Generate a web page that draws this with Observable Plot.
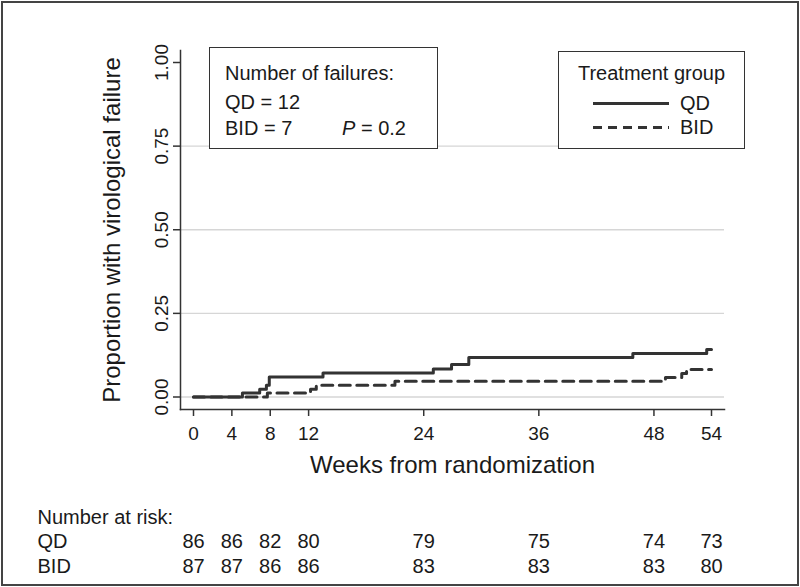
<!DOCTYPE html>
<html>
<head>
<meta charset="utf-8">
<script src="https://cdn.jsdelivr.net/npm/d3@7"></script>
<script src="https://cdn.jsdelivr.net/npm/@observablehq/plot@0.6"></script>
<style>
  html, body { margin: 0; padding: 0; background: #fff; }
  #wrap { position: relative; width: 800px; height: 587px; font-family: "Liberation Sans", Arial, Helvetica, sans-serif; color: #1a1a1a; }
  #wrap svg { position: absolute; left: 0; top: 0; }
  .border { position: absolute; left: 1px; top: 1px; width: 794px; height: 581px; border: 2px solid #444; pointer-events: none; }
  .box { position: absolute; border: 1.5px solid #333; background: #fff; box-sizing: border-box; }
  .t { position: absolute; font-size: 20px; line-height: 20px; white-space: nowrap; }
</style>
</head>
<body>
<div id="wrap"></div>
<script>
// ---- data ----
const qdWeeks = [0, 5.1, 6.9, 7.6, 7.9, 13.5, 25.0, 26.9, 28.7, 45.8, 53.5, 54];
const qdProp  = [0, 0.012, 0.023, 0.035, 0.060, 0.072, 0.084, 0.097, 0.118, 0.130, 0.142, 0.142];
const bidWeeks = [0, 7.7, 12.2, 12.8, 21.0, 49.2, 50.9, 51.4, 54];
const bidProp  = [0, 0.012, 0.023, 0.035, 0.047, 0.058, 0.070, 0.082, 0.082];
const riskWeeks = [0, 4, 8, 12, 24, 36, 48, 54];
const qdRisk  = [86, 86, 82, 80, 79, 75, 74, 73];
const bidRisk = [87, 87, 86, 86, 83, 83, 83, 80];
const xTicks = [0, 4, 8, 12, 24, 36, 48, 54];
const yTicks = [0, 0.25, 0.5, 0.75, 1];
const gridTicks = [0, 0.25, 0.5, 0.75];
const groups = ["QD", "BID"];
const failures = {QD: 12, BID: 7};
const pValue = "0.2";

const qd = qdWeeks.map((w, i) => ({week: w, p: qdProp[i]}));
const bid = bidWeeks.map((w, i) => ({week: w, p: bidProp[i]}));
const ink = "#1a1a1a";
const lineInk = "#333";
const font = "Liberation Sans, Arial, Helvetica, sans-serif";
const narrow = "Liberation Sans Narrow, Arial Narrow, Liberation Sans, Arial, sans-serif";

const chart = Plot.plot({
  width: 800,
  height: 587,
  marginTop: 50,
  marginBottom: 178,
  marginLeft: 180,
  marginRight: 76,
  x: {domain: [0, 54], insetLeft: 13, insetRight: 13},
  y: {domain: [0, 1], insetTop: 12, insetBottom: 12.5},
  style: {fontFamily: font, color: ink, background: "transparent", overflow: "visible"},
  marks: [
    Plot.gridY(gridTicks, {stroke: "#d6d6d6", strokeOpacity: 1, strokeWidth: 1.3}),
    Plot.frame({anchor: "left", stroke: lineInk, strokeWidth: 1.5}),
    Plot.frame({anchor: "bottom", stroke: lineInk, strokeWidth: 1.5}),
    Plot.axisX({ticks: xTicks, tickSize: 7, tickFormat: () => "", label: null, stroke: lineInk, strokeWidth: 1.5}),
    Plot.axisY({ticks: yTicks, tickSize: 7, tickFormat: () => "", label: null, stroke: lineInk, strokeWidth: 1.5}),
    Plot.text(xTicks, {x: d => d, text: d => String(d), frameAnchor: "bottom", dy: 30, fontSize: 19, fontFamily: narrow, fill: ink}),
    Plot.text(yTicks, {y: d => d, text: d => d.toFixed(2), frameAnchor: "left", dx: -19, rotate: -90, textAnchor: "middle", fontSize: 19, fontFamily: narrow, fill: ink}),
    Plot.line(bid, {x: "week", y: "p", curve: "step-after", stroke: lineInk, strokeWidth: 3, strokeDasharray: "11,6.5"}),
    Plot.line(qd, {x: "week", y: "p", curve: "step-after", stroke: lineInk, strokeWidth: 3}),
    Plot.text(["Proportion with virological failure"], {frameAnchor: "left", dx: -68, rotate: -90, textAnchor: "middle", fontSize: 24, fill: ink}),
    Plot.text(["Weeks from randomization"], {frameAnchor: "bottom", dy: 63, fontSize: 24, fill: ink}),
    Plot.text(["Number at risk:"], {frameAnchor: "bottom-left", dx: -143, dy: 114, textAnchor: "start", fontSize: 20, fill: ink}),
    Plot.text([groups[0]], {frameAnchor: "bottom-left", dx: -143, dy: 138, textAnchor: "start", fontSize: 20, fill: ink}),
    Plot.text([groups[1]], {frameAnchor: "bottom-left", dx: -143, dy: 163, textAnchor: "start", fontSize: 20, fill: ink}),
    Plot.text(riskWeeks, {x: d => d, text: (d, i) => qdRisk[i], frameAnchor: "bottom", dy: 138, fontSize: 20, fill: ink}),
    Plot.text(riskWeeks, {x: d => d, text: (d, i) => bidRisk[i], frameAnchor: "bottom", dy: 163, fontSize: 20, fill: ink})
  ]
});

const wrap = document.getElementById("wrap");
wrap.appendChild(chart);

// outer border
const border = document.createElement("div");
border.className = "border";
wrap.appendChild(border);

// Box 1: number of failures
const box1 = document.createElement("div");
box1.className = "box";
Object.assign(box1.style, {left: "209px", top: "47px", width: "229px", height: "102px"});
box1.innerHTML = `
  <div class="t" style="left:15px; top:15px;">Number of failures:</div>
  <div class="t" style="left:15px; top:44px;">${groups[0]} = ${failures.QD}</div>
  <div class="t" style="left:15px; top:70px;">${groups[1]} = ${failures.BID}</div>
  <div class="t" style="left:132px; top:70px;"><i>P</i> = ${pValue}</div>`;
wrap.appendChild(box1);

// Box 2: treatment group legend
const box2 = document.createElement("div");
box2.className = "box";
Object.assign(box2.style, {left: "558px", top: "51px", width: "187px", height: "98px"});
box2.innerHTML = `
  <div class="t" style="left:0; width:185px; text-align:center; top:11px;">Treatment group</div>
  <svg style="position:absolute; left:34px; top:42px;" width="78" height="40">
    <line x1="0" x2="76" y1="9.5" y2="9.5" stroke="${lineInk}" stroke-width="3"/>
    <line x1="0" x2="76" y1="33.5" y2="33.5" stroke="${lineInk}" stroke-width="3" stroke-dasharray="9,6"/>
  </svg>
  <div class="t" style="left:121px; top:41px;">${groups[0]}</div>
  <div class="t" style="left:121px; top:65px;">${groups[1]}</div>`;
wrap.appendChild(box2);
</script>
</body>
</html>
